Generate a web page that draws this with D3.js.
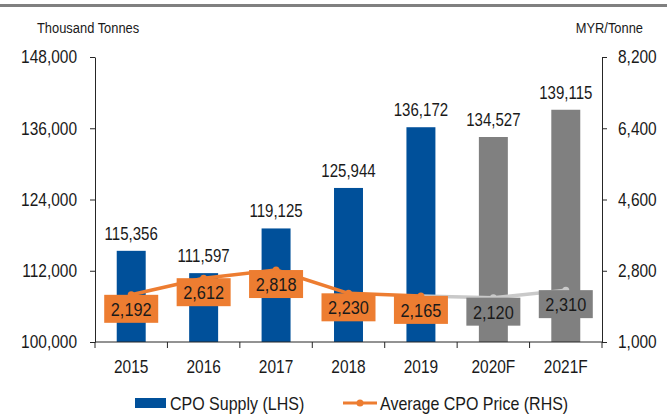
<!DOCTYPE html>
<html>
<head>
<meta charset="utf-8">
<script src="https://cdn.jsdelivr.net/npm/d3@7"></script>
<style>
  body { margin: 0; background: #fff; }
  svg text { font-family: "Liberation Sans", Arial, sans-serif; fill: #1a1a1a; }
</style>
</head>
<body>
<div id="vis"></div>
<script>
// chart data
const years = ["2015", "2016", "2017", "2018", "2019", "2020F", "2021F"];
const supply = [115356, 111597, 119125, 125944, 136172, 134527, 139115];
const price = [2192, 2612, 2818, 2230, 2165, 2120, 2310];
const forecast = [false, false, false, false, false, true, true];
const leftTicks = [100000, 112000, 124000, 136000, 148000];
const rightTicks = [1000, 2800, 4600, 6400, 8200];

const W = 667, H = 418;
const margin = { top: 57, left: 95, right: 65, bottom: 76 };
const blue = "#00509a", grey = "#808080", orange = "#ed7d31", lightGrey = "#c9c9c9";

// the original uses a condensed face; squeeze text horizontally
function narrow(sel, k) {
  sel.each(function() {
    let t = d3.select(this);
    let tx = +t.attr("x") || 0, ty = +t.attr("y") || 0;
    t.attr("x", null).attr("y", null)
     .attr("transform", "translate(" + tx + "," + ty + ") scale(" + k + ",1)");
  });
}

let svg = d3.select("#vis")
  .append("svg")
  .attr("width", W)
  .attr("height", H);

// top rule
svg.append("rect")
  .attr("x", 0).attr("y", 4)
  .attr("width", W).attr("height", 3)
  .attr("fill", grey);

let x = d3.scaleBand()
  .domain(years)
  .range([margin.left, W - margin.right])
  .paddingInner(0.6)
  .paddingOuter(0.3);

// band boundaries for the x ticks
let xb = d3.scaleBand().domain(years).range([margin.left, W - margin.right]);

let yL = d3.scaleLinear().domain([100000, 148000]).range([H - margin.bottom, margin.top]);
let yR = d3.scaleLinear().domain([1000, 8200]).range([H - margin.bottom, margin.top]);

let fmt = d3.format(",");

// left axis
let gL = svg.append("g")
  .attr("transform", "translate(" + margin.left + ",0)")
  .call(d3.axisLeft(yL).tickValues(leftTicks).tickSize(5).tickSizeOuter(0).tickFormat(fmt));
gL.selectAll("text").attr("font-size", 18).attr("x", -18);

// right axis
let gR = svg.append("g")
  .attr("transform", "translate(" + (W - margin.right) + ",0)")
  .call(d3.axisRight(yR).tickValues(rightTicks).tickSize(5).tickSizeOuter(0).tickFormat(fmt));
gR.selectAll("text").attr("font-size", 18).attr("x", 16);

[gL, gR].forEach(g => {
  g.selectAll("path, line").attr("stroke", "#262626");
  g.selectAll("text").attr("fill", "#1a1a1a");
  narrow(g.selectAll("text"), 0.86);
});

// bars
svg.append("g")
  .selectAll("rect")
  .data(years)
  .enter()
  .append("rect")
    .attr("x", d => x(d))
    .attr("y", (d, i) => yL(supply[i]))
    .attr("width", x.bandwidth())
    .attr("height", (d, i) => yL(100000) - yL(supply[i]))
    .attr("fill", (d, i) => forecast[i] ? grey : blue);

// bar labels
let barLabels = svg.append("g")
  .selectAll("text")
  .data(years)
  .enter()
  .append("text")
    .attr("x", d => x(d) + x.bandwidth() / 2)
    .attr("y", (d, i) => yL(supply[i]) - 11)
    .attr("text-anchor", "middle")
    .attr("font-size", 17.5)
    .text((d, i) => fmt(supply[i]));
narrow(barLabels, 0.86);

// x axis
let gX = svg.append("g")
  .attr("transform", "translate(0," + (H - margin.bottom) + ")");
gX.append("line")
  .attr("x1", margin.left).attr("x2", W - margin.right)
  .attr("stroke", "#262626");
gX.selectAll("line.tick")
  .data(years.concat(["end"]))
  .enter()
  .append("line")
    .attr("class", "tick")
    .attr("x1", (d, i) => i < years.length ? xb(d) : xb.range()[1])
    .attr("x2", (d, i) => i < years.length ? xb(d) : xb.range()[1])
    .attr("y1", 0).attr("y2", 6)
    .attr("stroke", "#262626");
let xLabels = gX.selectAll("text")
  .data(years)
  .enter()
  .append("text")
    .attr("x", d => x(d) + x.bandwidth() / 2)
    .attr("y", 31)
    .attr("text-anchor", "middle")
    .attr("font-size", 18)
    .text(d => d);
narrow(xLabels, 0.86);

// price line
let cx = i => x(years[i]) + x.bandwidth() / 2;
let segs = d3.range(price.length - 1);
svg.append("g")
  .selectAll("line")
  .data(segs)
  .enter()
  .append("line")
    .attr("x1", i => cx(i))
    .attr("y1", i => yR(price[i]))
    .attr("x2", i => cx(i + 1))
    .attr("y2", i => yR(price[i + 1]))
    .attr("stroke", i => forecast[i + 1] ? lightGrey : orange)
    .attr("stroke-width", 3.5)
    .attr("stroke-linecap", "round");

svg.append("g")
  .selectAll("circle")
  .data(price)
  .enter()
  .append("circle")
    .attr("cx", (d, i) => cx(i))
    .attr("cy", d => yR(d))
    .attr("r", 3.5)
    .attr("fill", (d, i) => forecast[i] ? lightGrey : orange);

// price label boxes
let boxes = svg.append("g")
  .selectAll("g")
  .data(price)
  .enter()
  .append("g")
    .attr("transform", (d, i) => "translate(" + cx(i) + "," + (yR(d) + 14) + ")");
boxes.append("rect")
  .attr("x", -27).attr("y", -14)
  .attr("width", 54).attr("height", 28)
  .attr("fill", (d, i) => forecast[i] ? grey : orange);
let boxText = boxes.append("text")
  .attr("y", 7)
  .attr("text-anchor", "middle")
  .attr("font-size", 19)
  .text(d => fmt(d));
narrow(boxText, 0.86);

// unit labels
let units = svg.append("g");
units.append("text")
  .attr("x", 37).attr("y", 33)
  .attr("font-size", 15)
  .text("Thousand Tonnes");
units.append("text")
  .attr("x", 643).attr("y", 33)
  .attr("text-anchor", "end")
  .attr("font-size", 15)
  .text("MYR/Tonne");
narrow(units.selectAll("text"), 0.86);

// legend
let lg = svg.append("g").attr("transform", "translate(0,403)");
lg.append("rect")
  .attr("x", 135).attr("y", -5)
  .attr("width", 31).attr("height", 10)
  .attr("fill", blue);
lg.append("text")
  .attr("x", 170).attr("y", 6.5)
  .attr("font-size", 18)
  .text("CPO Supply (LHS)");
lg.append("line")
  .attr("x1", 343).attr("x2", 377)
  .attr("stroke", orange).attr("stroke-width", 3);
lg.append("circle")
  .attr("cx", 360).attr("r", 3.5)
  .attr("fill", orange);
lg.append("text")
  .attr("x", 380).attr("y", 6.5)
  .attr("font-size", 18)
  .text("Average CPO Price (RHS)");
narrow(lg.selectAll("text"), 0.89);
</script>
</body>
</html>
